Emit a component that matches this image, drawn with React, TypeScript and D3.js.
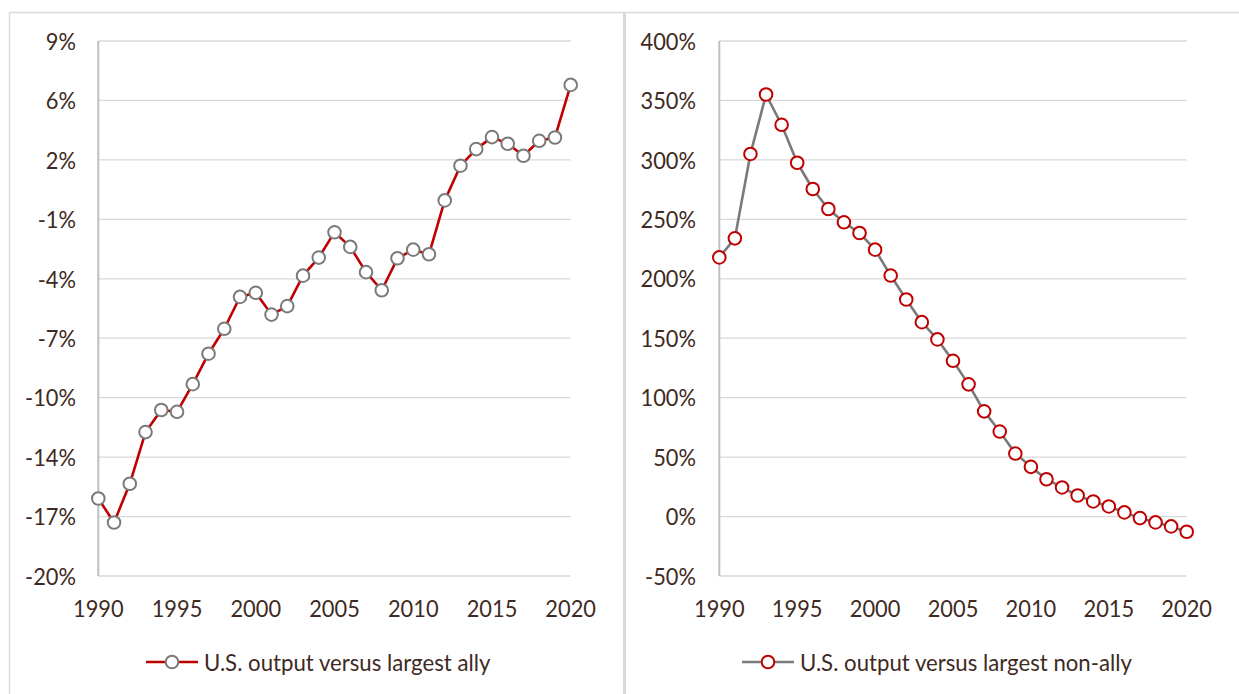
import React, { useEffect, useRef } from 'react';
import * as d3 from 'd3';

const years = [
  1990, 1991, 1992, 1993, 1994, 1995, 1996, 1997, 1998, 1999, 2000,
  2001, 2002, 2003, 2004, 2005, 2006, 2007, 2008, 2009, 2010,
  2011, 2012, 2013, 2014, 2015, 2016, 2017, 2018, 2019, 2020,
];

// U.S. output gap versus largest ally (share)
const allyGap = [
  -0.158, -0.171, -0.150, -0.122, -0.110, -0.111, -0.096, -0.0795, -0.066, -0.0487, -0.0465,
  -0.0583, -0.0537, -0.0372, -0.0274, -0.0137, -0.0216, -0.0353, -0.0451, -0.0278, -0.0231,
  -0.0256, 0.0036, 0.0224, 0.0314, 0.0379, 0.0343, 0.0278, 0.0359, 0.0377, 0.0662,
];

// U.S. output gap versus largest non-ally (share)
const nonAllyGap = [
  2.18, 2.34, 3.05, 3.55, 3.295, 2.976, 2.755, 2.587, 2.475, 2.385, 2.245,
  2.027, 1.826, 1.635, 1.49, 1.31, 1.112, 0.885, 0.715, 0.53, 0.418,
  0.314, 0.245, 0.177, 0.127, 0.085, 0.035, -0.013, -0.049, -0.083, -0.128,
];

const xTicks = [1990, 1995, 2000, 2005, 2010, 2015, 2020];

const allyTicks = [-0.2, -0.1678, -0.1356, -0.1033, -0.0711, -0.0389, -0.0067, 0.0256, 0.0578, 0.09];
const allyTickLabels = ['-20%', '-17%', '-14%', '-10%', '-7%', '-4%', '-1%', '2%', '6%', '9%'];

const nonAllyTicks = [-0.5, 0, 0.5, 1, 1.5, 2, 2.5, 3, 3.5, 4];
const nonAllyTickLabels = ['-50%', '0%', '50%', '100%', '150%', '200%', '250%', '300%', '350%', '400%'];

const TEXT = '#3e2a22';
const RED = '#c00000';
const GRAY = '#7a7a7a';
const FONT = 'Lato, "Open Sans", sans-serif';
const TICK_SQUEEZE = 0.95;
const LEGEND_SQUEEZE = 0.965;

function drawPanel(svg, opts) {
  const { left, right, values, ticks, labels, lineColor, markerColor, legend, legendX, labelRight } = opts;
  const top = 41;
  const bottom = 576;

  const x = d3.scaleLinear().domain([1990, 2020]).range([left, right]);
  const y = d3.scaleLinear().domain([ticks[0], ticks[ticks.length - 1]]).range([bottom, top]);

  const g = svg.append('g');

  // gridlines
  g.selectAll('line.grid')
    .data(ticks)
    .join('line')
    .attr('x1', left)
    .attr('x2', right)
    .attr('y1', d => y(d))
    .attr('y2', d => y(d))
    .attr('stroke', '#d9d9d9')
    .attr('stroke-width', 1.3);

  // vertical axis line
  g.append('line')
    .attr('x1', left).attr('x2', left)
    .attr('y1', top).attr('y2', bottom)
    .attr('stroke', '#bfbfbf')
    .attr('stroke-width', 2);

  // y tick labels
  g.selectAll('text.ylab')
    .data(ticks)
    .join('text')
    .attr('transform', d => `translate(${labelRight},${y(d)}) scale(${TICK_SQUEEZE},1)`)
    .attr('text-anchor', 'end')
    .attr('dominant-baseline', 'central')
    .attr('font-family', FONT)
    .attr('font-size', 23)
    .attr('fill', TEXT)
    .text((d, i) => labels[i]);

  // x tick labels
  g.selectAll('text.xlab')
    .data(xTicks)
    .join('text')
    .attr('transform', d => `translate(${x(d)},${608}) scale(${TICK_SQUEEZE},1)`)
    .attr('text-anchor', 'middle')
    .attr('dominant-baseline', 'central')
    .attr('font-family', FONT)
    .attr('font-size', 23)
    .attr('fill', TEXT)
    .text(d => d);

  const pts = years.map((yr, i) => ({ yr, v: values[i] }));

  // line
  g.append('path')
    .datum(pts)
    .attr('fill', 'none')
    .attr('stroke', lineColor)
    .attr('stroke-width', 2.6)
    .attr('stroke-linejoin', 'round')
    .attr('d', d3.line().x(d => x(d.yr)).y(d => y(d.v)));

  // markers
  g.selectAll('circle.pt')
    .data(pts)
    .join('circle')
    .attr('cx', d => x(d.yr))
    .attr('cy', d => y(d.v))
    .attr('r', 6.3)
    .attr('fill', '#fff')
    .attr('stroke', markerColor)
    .attr('stroke-width', 2);

  // legend
  const ly = 662;
  g.append('line')
    .attr('x1', legendX).attr('x2', legendX + 52)
    .attr('y1', ly).attr('y2', ly)
    .attr('stroke', lineColor)
    .attr('stroke-width', 2.6);
  g.append('circle')
    .attr('cx', legendX + 26).attr('cy', ly)
    .attr('r', 6.3)
    .attr('fill', '#fff')
    .attr('stroke', markerColor)
    .attr('stroke-width', 2);
  g.append('text')
    .attr('transform', `translate(${legendX + 58},${ly}) scale(${LEGEND_SQUEEZE},1)`)
    .attr('dominant-baseline', 'central')
    .attr('font-family', FONT)
    .attr('font-size', 23)
    .attr('fill', TEXT)
    .text(legend);
}

export default function App() {
  const svgRef = useRef(null);

  useEffect(() => {
    const svg = d3.select(svgRef.current);
    svg.selectAll('*').remove();

    // panel frame
    svg.append('rect').attr('width', 1239).attr('height', 694).attr('fill', '#fff');
    svg.append('line').attr('x1', 9.5).attr('x2', 1239).attr('y1', 12.5).attr('y2', 12.5)
      .attr('stroke', '#d9d9d9').attr('stroke-width', 1.5);
    svg.append('line').attr('x1', 9.5).attr('x2', 9.5).attr('y1', 12.5).attr('y2', 694)
      .attr('stroke', '#d9d9d9').attr('stroke-width', 1.5);
    svg.append('line').attr('x1', 624.5).attr('x2', 624.5).attr('y1', 12.5).attr('y2', 694)
      .attr('stroke', '#d9d9d9').attr('stroke-width', 3);

    drawPanel(svg, {
      left: 98.3, right: 570.7,
      values: allyGap, ticks: allyTicks, labels: allyTickLabels,
      lineColor: RED, markerColor: GRAY,
      legend: 'U.S. output versus largest ally', legendX: 146, labelRight: 76,
    });

    drawPanel(svg, {
      left: 719.3, right: 1186.7,
      values: nonAllyGap, ticks: nonAllyTicks, labels: nonAllyTickLabels,
      lineColor: GRAY, markerColor: RED,
      legend: 'U.S. output versus largest non-ally', legendX: 742, labelRight: 696,
    });
  }, []);

  return (
    <svg
      ref={svgRef}
      width={1239}
      height={694}
      style={{ position: 'absolute', left: 0, top: 0 }}
    />
  );
}
